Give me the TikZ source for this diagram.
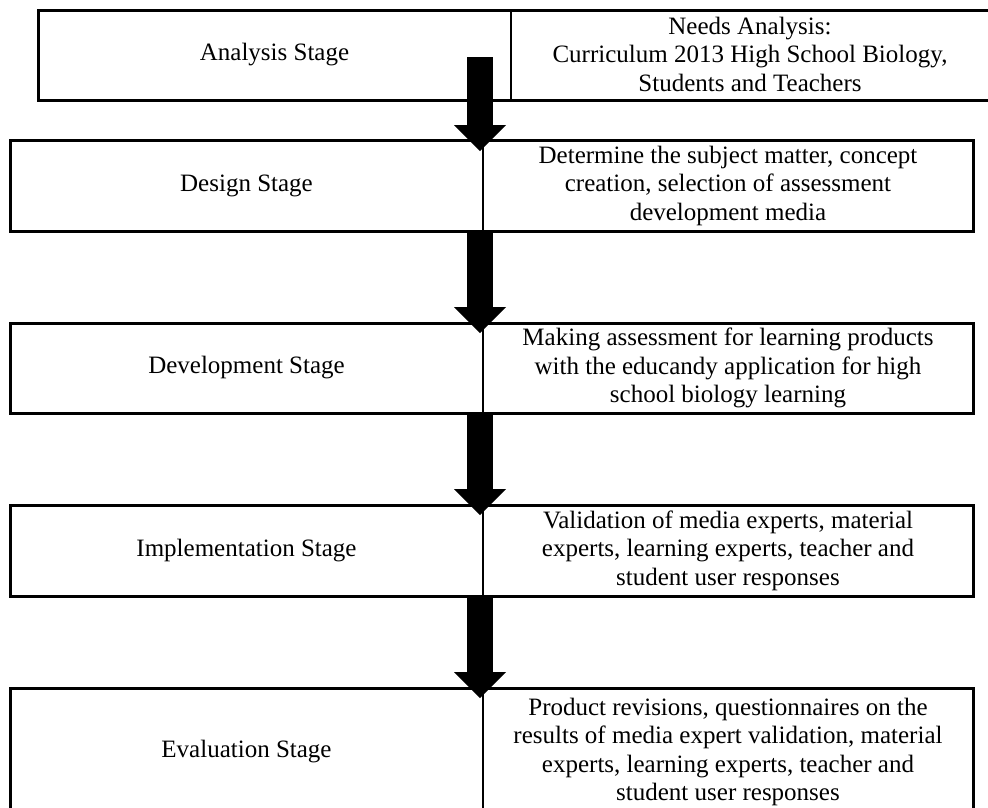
\documentclass[tikz,border=0pt]{standalone}
\usepackage{fontspec}
\setmainfont{Liberation Serif}
\usetikzlibrary{arrows.meta}
\tikzset{
  stagebox/.style={draw, line width=3pt, rectangle, inner sep=0pt, outer sep=0pt, anchor=north west},
  txt/.style={align=center, inner sep=0pt, font=\fontsize{25}{28.5}\selectfont},
  divline/.style={line width=2.2pt},
  bigarrow/.style={line width=26pt, -{Triangle[width=52pt,length=26pt,line width=0pt]}}
}
\begin{document}
\begin{tikzpicture}[x=1pt,y=-1pt]
\useasboundingbox (0,0) rectangle (988,807);
% boxes
\node[stagebox, minimum width=952pt, minimum height=90pt] (b1) at (38,10) {};
\node[stagebox, minimum width=963pt, minimum height=91pt] (b2) at (10,140) {};
\node[stagebox, minimum width=963pt, minimum height=90pt] (b3) at (10,323) {};
\node[stagebox, minimum width=963pt, minimum height=91pt] (b4) at (10,505) {};
\node[stagebox, minimum width=963pt, minimum height=134pt] (b5) at (10,688) {};
% dividers
\foreach \b in {b1,b2,b3,b4,b5}{
  \draw[divline] ([xshift=473pt]\b.north west) -- ([xshift=473pt]\b.south west);
}
% texts
\node[txt] (l1) at (274.5,55) {Analysis Stage};
\node[txt] (r1) at (750,54) {Needs Analysis:\\Curriculum 2013 High School Biology,\\Students and Teachers};
\node[txt] (l2) at (246.5,185.5) {Design Stage};
\node[txt] (r2) at (728,185.5) {Determine the subject matter, concept\\creation, selection of assessment\\development media};
\node[txt] (l3) at (246.5,368) {Development Stage};
\node[txt] (r3) at (728,368) {Making assessment for learning products\\with the educandy application for high\\school biology learning};
\node[txt] (l4) at (246.5,550.5) {Implementation Stage};
\node[txt] (r4) at (728,550.5) {Validation of media experts, material\\experts, learning experts, teacher and\\student user responses};
\node[txt] (l5) at (246.5,752) {Evaluation Stage};
\node[txt] (r5) at (728,752) {Product revisions, questionnaires on the\\results of media expert validation, material\\experts, learning experts, teacher and\\student user responses};
% arrows
\coordinate (s1) at (480,57);  \coordinate (e1) at (480,151);
\coordinate (s2) at (480,231); \coordinate (e2) at (480,333);
\coordinate (s3) at (480,413); \coordinate (e3) at (480,515);
\coordinate (s4) at (480,596); \coordinate (e4) at (480,698);
\draw[bigarrow] (s1) -- (e1);
\draw[bigarrow] (s2) -- (e2);
\draw[bigarrow] (s3) -- (e3);
\draw[bigarrow] (s4) -- (e4);
\end{tikzpicture}
\end{document}
